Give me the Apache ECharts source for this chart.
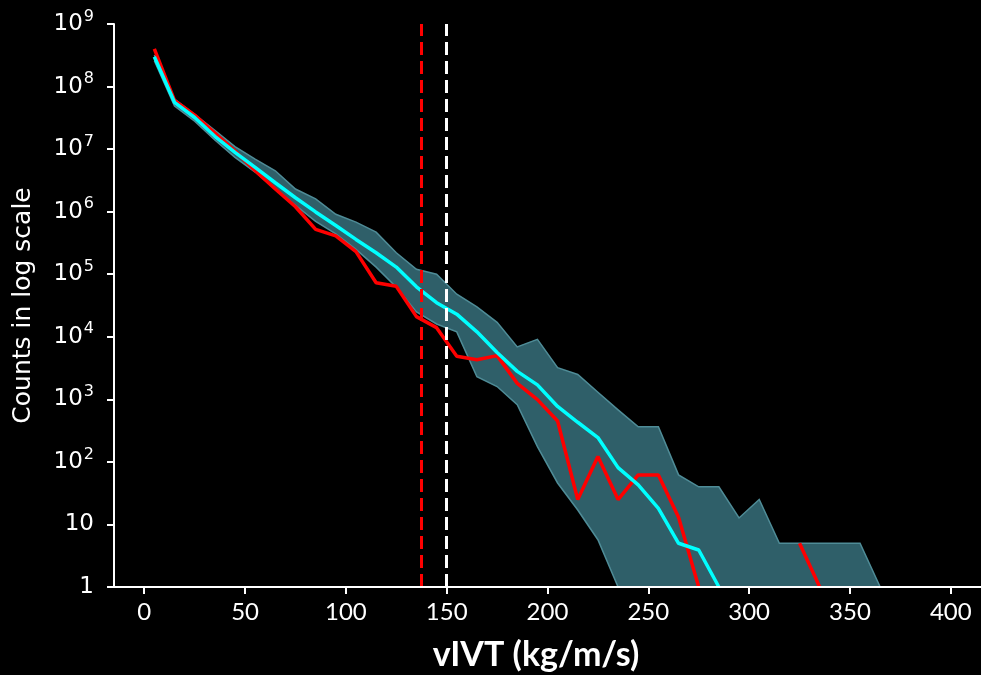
<!DOCTYPE html>
<html>
<head>
<meta charset="utf-8">
<title>vIVT counts</title>
<script src="https://cdn.jsdelivr.net/npm/echarts@6.0.0/dist/echarts.min.js"></script>
<style>
  html, body { margin: 0; padding: 0; background: #000; }
  #chart { width: 981px; height: 675px; }
</style>
</head>
<body>
<div id="chart"></div>
<script>
// bin centres (kg/m/s)
var binCenters = [5, 15, 25, 35, 45, 55, 65, 75, 85, 95,
                  105, 115, 125, 135, 145, 155, 165, 175, 185, 195,
                  205, 215, 225, 235, 245, 255, 265, 275, 285, 295,
                  305, 315, 325, 335, 345, 355, 365, 375, 385, 395];

// observed counts (red)
var observed = [4e8, 6e7, 3.5e7, 1.8e7, 9.3e6, 4.5e6, 2.3e6, 1.2e6, 5.2e5, 4.1e5,
                2.3e5, 7.3e4, 6.4e4, 2.1e4, 1.4e4, 4.9e3, 4.3e3, 5e3, 1.8e3, 990,
                450, 25, 122, 25, 62, 62, 13, 1, null, null,
                null, null, 5, 1, null, null, null, null, null, null];

// ensemble mean (cyan)
var ensembleMean = [3e8, 5.6e7, 3.2e7, 1.6e7, 8.9e6, 5.1e6, 2.9e6, 1.67e6, 9.9e5, 6e5,
                    3.6e5, 2.2e5, 1.3e5, 6.3e4, 3.5e4, 2.3e4, 1.2e4, 5.6e3, 2.8e3, 1.7e3,
                    770, 430, 245, 81, 43, 18, 5, 3.9, 1, null,
                    null, null, null, null, null, null, null, null, null, null];

// ensemble spread (shaded band)
var ensembleMax = [3.2e8, 6.3e7, 3.6e7, 2e7, 1.1e7, 6.9e6, 4.5e6, 2.3e6, 1.6e6, 9.1e5,
                   6.8e5, 4.7e5, 2.2e5, 1.2e5, 1e5, 4.8e4, 3e4, 1.7e4, 6.9e3, 9.1e3,
                   3.2e3, 2.5e3, 1.3e3, 680, 365, 365, 62, 40, 40, 12.7,
                   25, 5, 5, 5, 5, 5, 1, 1, 1, 1];
var ensembleMin = [2.6e8, 4.9e7, 2.8e7, 1.4e7, 7.4e6, 4.3e6, 2.3e6, 1.26e6, 7e5, 4.4e5,
                   2.5e5, 1.3e5, 6.2e4, 2.5e4, 1.6e4, 1.2e4, 2.3e3, 1.6e3, 820, 175,
                   46, 17, 5.7, 1, 0, 0, 0, 0, 0, 0,
                   0, 0, 0, 0, 0, 0, 0, 0, 0, 0];

var xTicks = [0, 50, 100, 150, 200, 250, 300, 350, 400];
var thresholdRed = 137.5;
var thresholdWhite = 150;

var chart = echarts.init(document.getElementById('chart'));

function pairs(vals) {
  return binCenters.map(function (x, i) { return [x, vals[i]]; });
}

function yLabel(v) {
  var e = Math.round(Math.log10(v));
  if (e === 0) return '{b|1}';
  if (e === 1) return '{b|10}';
  return '{b|10}{sup|' + e + '}';
}

function renderBand(params, api) {
  var top = [], bottom = [], lowEdge = [];
  for (var i = 0; i < binCenters.length; i++) {
    top.push(api.coord([binCenters[i], Math.max(ensembleMax[i], 1)]));
    var p = api.coord([binCenters[i], Math.max(ensembleMin[i], 1)]);
    bottom.push(p);
    if (ensembleMin[i] >= 1) lowEdge.push(p);
  }
  var poly = top.concat(bottom.slice().reverse());
  return {
    type: 'group',
    children: [
      { type: 'polygon', shape: { points: poly }, style: { fill: '#2f5f69' } },
      { type: 'polyline', shape: { points: top }, style: { stroke: '#4f8c97', lineWidth: 1.5, fill: null } },
      { type: 'polyline', shape: { points: lowEdge }, style: { stroke: '#4f8c97', lineWidth: 1.5, fill: null } }
    ]
  };
}

var option = {
  backgroundColor: '#000',
  animation: false,
  grid: { left: 114, right: 0, top: 24, bottom: 88, containLabel: false, outerBoundsMode: 'none' },
  xAxis: {
    type: 'value',
    min: -15,
    max: 415,
    z: 5,
    axisLine: { show: true, onZero: false, lineStyle: { color: '#fff', width: 2 } },
    axisTick: { show: true, customValues: xTicks, length: 7, lineStyle: { color: '#fff', width: 2 } },
    axisLabel: { customValues: xTicks, color: '#fff', fontSize: 24, fontFamily: 'Lato', margin: 13 },
    splitLine: { show: false }
  },
  yAxis: {
    type: 'log',
    logBase: 10,
    min: 1,
    max: 1e9,
    splitNumber: 9,
    z: 5,
    name: 'Counts in log scale',
    nameLocation: 'middle',
    nameRotate: 90,
    nameGap: 78,
    nameTextStyle: { color: '#fff', fontSize: 25, fontFamily: 'DejaVu Sans' },
    axisLine: { show: true, onZero: false, lineStyle: { color: '#fff', width: 2 } },
    axisTick: { show: true, length: 7, lineStyle: { color: '#fff', width: 2 } },
    axisLabel: {
      formatter: yLabel,
      margin: 20,
      rich: {
        b: { color: '#fff', fontSize: 23, fontFamily: 'DejaVu Sans' },
        sup: { color: '#fff', fontSize: 16, fontFamily: 'DejaVu Sans', padding: [0, 0, 15, 1] }
      }
    },
    splitLine: { show: false }
  },
  graphic: [{
    type: 'text',
    x: 536,
    y: 655,
    style: { text: 'vIVT (kg/m/s)', font: 'bold 34px Lato', fill: '#fff', textAlign: 'center', textVerticalAlign: 'middle' }
  }],
  series: [
    {
      name: 'spread',
      type: 'custom',
      z: 1,
      silent: true,
      renderItem: renderBand,
      data: [[binCenters[0], ensembleMax[0]]]
    },
    {
      name: 'observed',
      type: 'line',
      z: 3,
      showSymbol: false,
      connectNulls: false,
      lineStyle: { color: '#ff0000', width: 3.5 },
      itemStyle: { color: '#ff0000' },
      data: pairs(observed),
      markLine: {
        silent: true,
        symbol: ['none', 'none'],
        label: { show: false },
        data: [
          { xAxis: thresholdRed, lineStyle: { color: '#ff0000', type: [13, 6], width: 3 } },
          { xAxis: thresholdWhite, lineStyle: { color: '#ffffff', type: [13, 6], width: 3 } }
        ]
      }
    },
    {
      name: 'mean',
      type: 'line',
      z: 4,
      showSymbol: false,
      connectNulls: false,
      lineStyle: { color: '#00ffff', width: 3.5 },
      itemStyle: { color: '#00ffff' },
      data: pairs(ensembleMean)
    }
  ]
};

chart.setOption(option);
</script>
</body>
</html>
